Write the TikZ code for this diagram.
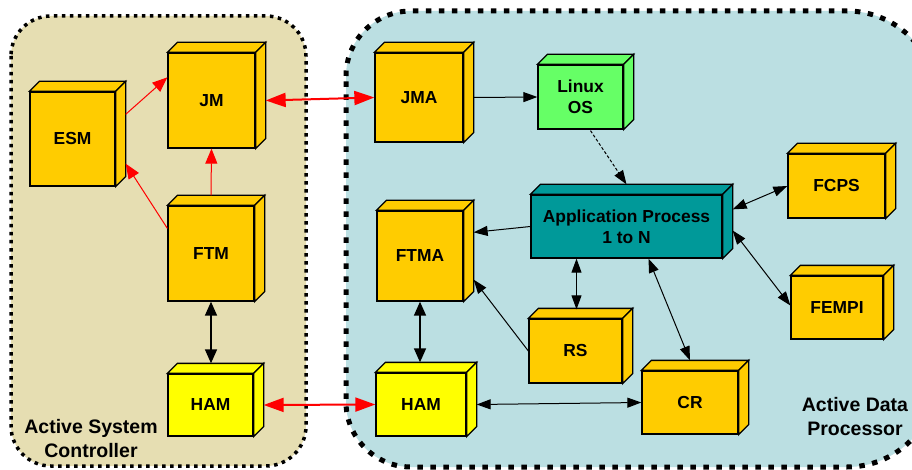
\documentclass[tikz,border=0pt]{standalone}
\usepackage{fontspec}
\setmainfont{Liberation Sans}
\usetikzlibrary{arrows.meta,calc}
\definecolor{tanbg}{RGB}{230,222,178}
\definecolor{bluebg}{RGB}{187,223,226}
\definecolor{boxy}{RGB}{255,204,0}
\definecolor{hamy}{RGB}{255,255,0}
\definecolor{lingreen}{RGB}{102,255,102}
\definecolor{appteal}{RGB}{0,153,153}
\newcommand\cuboid[7]{%
  \node[cubefront, fill=#6, minimum width=#4pt, minimum height=#5pt] (#1) at (#2,#3) {#7};
  \draw[cubeline, fill=#6] (#1.north west) -- ++(10,-10) -- ($(#1.north east)+(10,-10)$) -- (#1.north east) -- cycle;
  \draw[cubeline, fill=#6] (#1.north east) -- ++(10,-10) -- ($(#1.south east)+(10,-10)$) -- (#1.south east) -- cycle;
}
\begin{document}
\begin{tikzpicture}[x=1pt,y=-1pt,
  cubeline/.style={draw=black, line width=1.3pt, line join=miter},
  cubefront/.style={draw=black, line width=1.3pt, inner sep=0pt, align=center,
    font=\fontsize{17.4}{21}\selectfont\bfseries},
  regionlabel/.style={align=center, font=\fontsize{19.5}{24}\selectfont\bfseries},
  redthick/.style={draw=red, line width=2pt, {Triangle[length=20pt,width=14pt]}-{Triangle[length=20pt,width=14pt]}},
  redthin/.style={draw=red, line width=1pt, -{Triangle[length=15pt,width=12pt]}},
  blk/.style={draw=black, line width=1pt, -{Triangle[length=14pt,width=10pt]}},
  blkboth/.style={draw=black, line width=1pt, {Triangle[length=14pt,width=10pt]}-{Triangle[length=14pt,width=10pt]}},
  blkbig/.style={draw=black, line width=1.5pt, {Triangle[length=14pt,width=12pt]}-{Triangle[length=14pt,width=12pt]}}
]
\useasboundingbox (0,0) rectangle (912,470);
\begin{scope}
\clip (0,0) rectangle (912,470);
% left container
\draw[fill=tanbg, line width=3.5pt, dash pattern=on 3.5pt off 4.5pt, rounded corners=40pt]
  (11,16) rectangle (306,466);
% right container
\draw[fill=bluebg, line width=5pt, dash pattern=on 5.5pt off 7.5pt]
  (346,76) arc(180:270:65) -- (847,11) arc(270:360:90) -- (937,377)
  arc(0:90:90) -- (411,467) arc(90:180:65) -- cycle;
\end{scope}

% left side cuboids
\cuboid{esm}{72.5}{139}{85}{94}{boxy}{ESM}
\cuboid{jm}{211.5}{100.5}{87}{95}{boxy}{JM}
\cuboid{ftm}{211}{253.5}{86}{95}{boxy}{FTM}
\cuboid{hama}{210.5}{405}{85}{62}{hamy}{HAM}

% right side cuboids
\cuboid{jma}{419}{97.5}{88}{89}{boxy}{JMA}
\cuboid{linux}{580.5}{97}{85}{64}{lingreen}{Linux\\OS}
\cuboid{app}{626.5}{226.5}{191}{63}{appteal}{Application Process\\1 to N}
\cuboid{ftma}{420}{256}{86}{90}{boxy}{FTMA}
\cuboid{hamb}{421}{404.5}{90}{63}{hamy}{HAM}
\cuboid{rs}{575.5}{351}{93}{64}{boxy}{RS}
\cuboid{cr}{690}{402.5}{96}{63}{boxy}{CR}
\cuboid{fcps}{836.5}{186}{97}{64}{boxy}{FCPS}
\cuboid{fempi}{837}{307.5}{92}{63}{boxy}{FEMPI}

% labels
\node[regionlabel] (asc) at (91,438.5) {Active System\\Controller};
\node[regionlabel] (adp) at (855,416.5) {Active Data\\Processor};

% connectors left
\draw[redthin] ($(esm.north east)+(10,23)$) -- ($(jm.north west)+(0,25)$);
\draw[redthin] ($(ftm.north west)+(0,23)$) -- ($(esm.south east)+(10,-23)$);
\draw[redthin] ($(ftm.north)+(0,-10)$) -- (jm.south);
\draw[blkbig] (ftm.south) -- ($(hama.north)+(0.5,-10)$);
% cross-container
\draw[redthick] ($(jm.east)+(10,0)$) -- (jma.west);
\draw[redthick] ($(hama.east)+(10,0)$) -- (hamb.west);
% connectors right
\draw[blk] ($(jma.east)+(10,0)$) -- (linux.west);
\draw[blk, dash pattern=on 3pt off 2pt] ($(linux.south)+(10,1)$) -- ($(app.north)+(0,-10)$);
\draw[blk] (app.west) -- ($(ftma.north east)+(10,22)$);
\draw[blkboth] ($(app.north east)+(10,15)$) -- (fcps.west);
\draw[blkboth] ($(app.east)+(10,4)$) -- ($(fempi.west)+(0,-2)$);
\draw[blkboth] ($(app.south)+(22,0)$) -- ($(cr.north)+(0,-10)$);
\draw[blkboth] ($(app.south)+(-50,0)$) -- ($(rs.north)+(1,-9)$);
\draw[blk] (rs.west) -- ($(ftma.south east)+(10,-22)$);
\draw[blkbig] (ftma.south) -- ($(hamb.north)+(-1,-10)$);
\draw[blkboth] ($(hamb.east)+(10,0)$) -- (cr.west);
\end{tikzpicture}
\end{document}
